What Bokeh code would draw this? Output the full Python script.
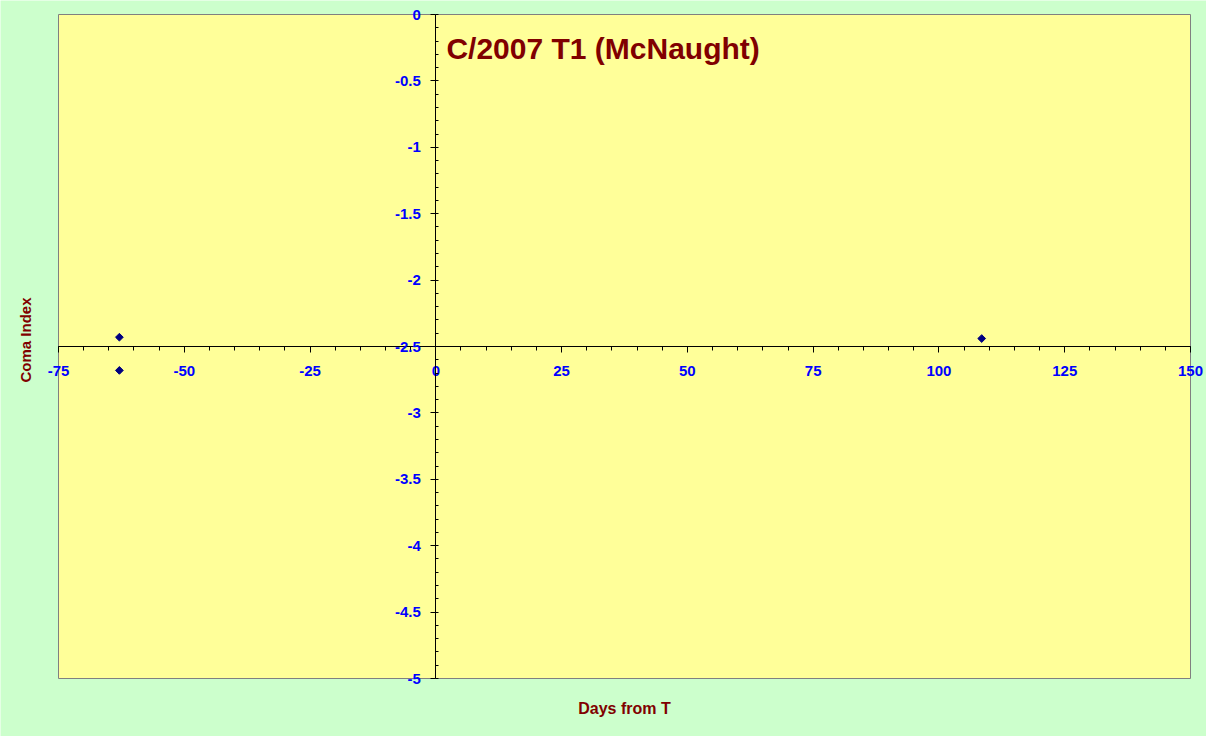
import numpy as np
from bokeh.plotting import figure
from bokeh.models import (LinearAxis, Range1d, SingleIntervalTicker,
                          CustomJSTickFormatter, Label)
from bokeh.embed import file_html
from bokeh.resources import INLINE

# ---- data ----
days = [-62.9, -62.9, 108.5]
coma_index = [-2.43, -2.68, -2.44]
x_limits = [-75, 150]
y_limits = [-5, 0]
x_cross = 0        # where the y axis crosses
y_cross = -2.5     # where the x axis crosses
title_text = "C/2007 T1 (McNaught)"
x_label = "Days from T"
y_label = "Coma Index"

# ---- layout (pixels) ----
W, H = 1206, 736
AREA_L, AREA_R, AREA_T, AREA_B = 58, 1190, 14, 678   # plot area inside canvas

FONT = "Liberation Sans"
DARKRED = "#800000"
BLUE = "#0000FF"

sx = (AREA_R - AREA_L) / (x_limits[1] - x_limits[0])
sy = (AREA_B - AREA_T) / (y_limits[1] - y_limits[0])
xr = Range1d(x_limits[0] - AREA_L / sx, x_limits[1] + (W - AREA_R) / sx)
yr = Range1d(y_limits[0] - (H - AREA_B) / sy, y_limits[1] + AREA_T / sy)

def data_x(px):
    return xr.start + px / sx

def data_y(py):
    return yr.end - py / sy

p = figure(width=W, height=H, x_range=xr, y_range=yr,
           x_axis_location=None, y_axis_location=None,
           toolbar_location=None, output_backend="svg",
           min_border=0)
p.border_fill_color = "#CCFFCC"
p.background_fill_color = "#CCFFCC"
p.outline_line_color = None
p.xgrid.visible = False
p.ygrid.visible = False

# plot area
p.quad(left=[x_limits[0]], right=[x_limits[1]], bottom=[y_limits[0]], top=[y_limits[1]],
       fill_color="#FFFF99", line_color="#808080", line_width=1)

fmt = CustomJSTickFormatter(code="return String(Math.round(tick*10)/10);")

def style_axis(ax):
    ax.axis_line_color = "black"
    ax.major_tick_line_color = "black"
    ax.minor_tick_line_color = "black"
    ax.major_label_text_color = BLUE
    ax.major_label_text_font = FONT
    ax.major_label_text_font_style = "bold"
    ax.major_label_text_font_size = "15px"

xax = LinearAxis(fixed_location=y_cross, bounds=tuple(x_limits),
                 ticker=SingleIntervalTicker(interval=25, num_minor_ticks=5),
                 formatter=fmt)
style_axis(xax)
xax.major_tick_out = 6
xax.major_tick_in = 0
xax.minor_tick_out = 4
xax.minor_tick_in = 0
xax.major_label_standoff = 13
p.add_layout(xax, "below")

yax = LinearAxis(fixed_location=x_cross, bounds=tuple(y_limits),
                 ticker=SingleIntervalTicker(interval=0.5, num_minor_ticks=5),
                 formatter=fmt)
style_axis(yax)
yax.major_tick_out = 5
yax.major_tick_in = 0
yax.minor_tick_out = 0
yax.minor_tick_in = 3
yax.major_label_standoff = 10
p.add_layout(yax, "left")

p.scatter(days, coma_index, marker="square", angle=np.pi / 4, size=5.5,
          fill_color="#000080", line_color="#000080")

p.add_layout(Label(x=2.1, y=-0.256, text=title_text, text_color=DARKRED,
                   text_font=FONT, text_font_style="bold", text_font_size="30px",
                   text_baseline="alphabetic"))
p.add_layout(Label(x=sum(x_limits) / 2, y=data_y(708), text=x_label, text_color=DARKRED,
                   text_font=FONT, text_font_style="bold", text_font_size="16px",
                   text_align="center", text_baseline="middle"))
p.add_layout(Label(x=data_x(24.5), y=data_y(339.5), text=y_label, text_color=DARKRED,
                   text_font=FONT, text_font_style="bold", text_font_size="15px",
                   text_align="center", text_baseline="middle", angle=np.pi / 2))

open("out.html", "w").write(file_html(p, INLINE))
